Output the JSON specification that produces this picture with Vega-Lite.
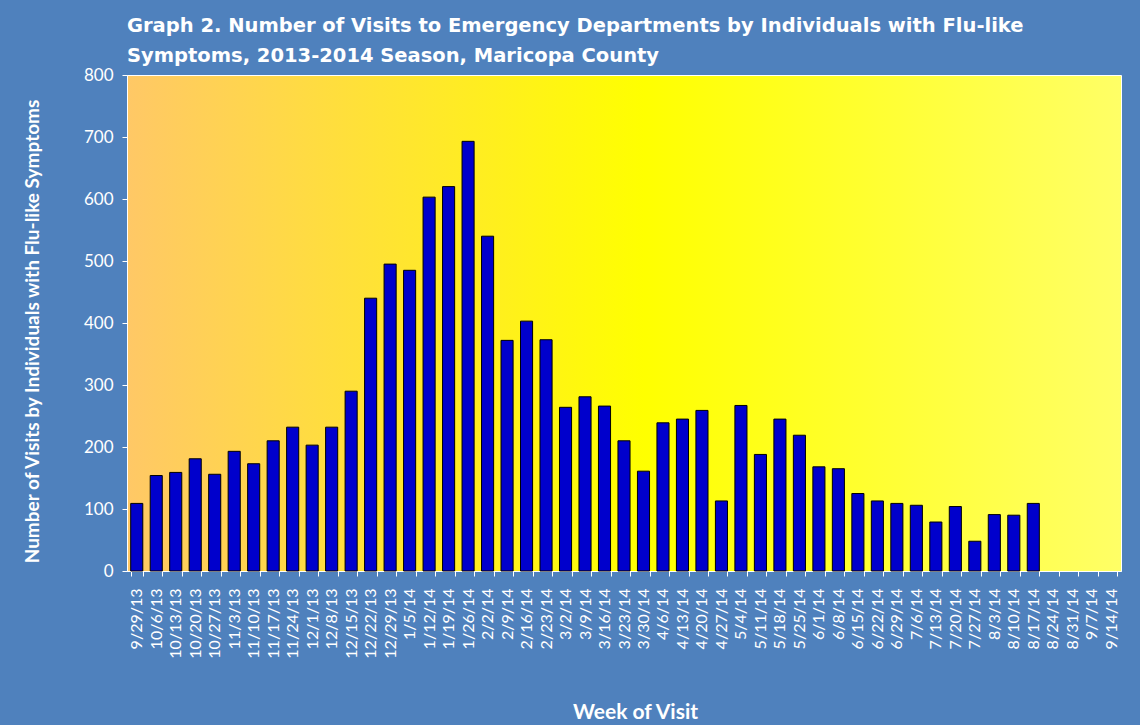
{
  "$schema": "https://vega.github.io/schema/vega-lite/v6.json",
  "width": 994,
  "height": 496,
  "autosize": {"type": "none"},
  "padding": {"left": 127, "top": 75, "right": 19, "bottom": 154},
  "background": "#4F81BD",
  "title": {
    "text": ["Graph 2. Number of Visits to Emergency Departments by Individuals with Flu-like", "Symptoms, 2013-2014 Season, Maricopa County"],
    "anchor": "start",
    "frame": "group",
    "font": "DejaVu Sans",
    "fontSize": 19.5,
    "fontWeight": "bold",
    "color": "white",
    "lineHeight": 30,
    "offset": 0
  },
  "config": {
    "view": {
      "stroke": "white",
      "strokeWidth": 1,
      "fill": {
        "gradient": "linear",
        "x1": 0, "y1": 0, "x2": 1, "y2": 0,
        "stops": [
          {"offset": 0, "color": "#FFC866"},
          {"offset": 0.52, "color": "#FFFF00"},
          {"offset": 1, "color": "#FFFF66"}
        ]
      }
    },
    "axis": {
      "labelFont": "Lato",
      "titleFont": "Lato",
      "labelColor": "white",
      "titleColor": "white",
      "domainColor": "white",
      "tickColor": "white",
      "grid": false
    }
  },
  "data": {
    "values": [
      {"week": "9/29/13", "visits": 109},
      {"week": "10/6/13", "visits": 154},
      {"week": "10/13/13", "visits": 159},
      {"week": "10/20/13", "visits": 181},
      {"week": "10/27/13", "visits": 156},
      {"week": "11/3/13", "visits": 193},
      {"week": "11/10/13", "visits": 173},
      {"week": "11/17/13", "visits": 210},
      {"week": "11/24/13", "visits": 232},
      {"week": "12/1/13", "visits": 203},
      {"week": "12/8/13", "visits": 232},
      {"week": "12/15/13", "visits": 290},
      {"week": "12/22/13", "visits": 440},
      {"week": "12/29/13", "visits": 495},
      {"week": "1/5/14", "visits": 485},
      {"week": "1/12/14", "visits": 603},
      {"week": "1/19/14", "visits": 620},
      {"week": "1/26/14", "visits": 693},
      {"week": "2/2/14", "visits": 540},
      {"week": "2/9/14", "visits": 372},
      {"week": "2/16/14", "visits": 403},
      {"week": "2/23/14", "visits": 373},
      {"week": "3/2/14", "visits": 264},
      {"week": "3/9/14", "visits": 281},
      {"week": "3/16/14", "visits": 266},
      {"week": "3/23/14", "visits": 210},
      {"week": "3/30/14", "visits": 161},
      {"week": "4/6/14", "visits": 239},
      {"week": "4/13/14", "visits": 245},
      {"week": "4/20/14", "visits": 259},
      {"week": "4/27/14", "visits": 113},
      {"week": "5/4/14", "visits": 267},
      {"week": "5/11/14", "visits": 188},
      {"week": "5/18/14", "visits": 245},
      {"week": "5/25/14", "visits": 219},
      {"week": "6/1/14", "visits": 168},
      {"week": "6/8/14", "visits": 165},
      {"week": "6/15/14", "visits": 125},
      {"week": "6/22/14", "visits": 113},
      {"week": "6/29/14", "visits": 109},
      {"week": "7/6/14", "visits": 106},
      {"week": "7/13/14", "visits": 79},
      {"week": "7/20/14", "visits": 104},
      {"week": "7/27/14", "visits": 48},
      {"week": "8/3/14", "visits": 91},
      {"week": "8/10/14", "visits": 90},
      {"week": "8/17/14", "visits": 109},
      {"week": "8/24/14", "visits": null},
      {"week": "8/31/14", "visits": null},
      {"week": "9/7/14", "visits": null},
      {"week": "9/14/14", "visits": null}
    ]
  },
  "mark": {"type": "bar", "color": "#0000CC", "stroke": "black", "strokeWidth": 1},
  "encoding": {
    "x": {
      "field": "week",
      "type": "nominal",
      "sort": null,
      "scale": {
        "domain": ["9/29/13", "10/6/13", "10/13/13", "10/20/13", "10/27/13", "11/3/13", "11/10/13", "11/17/13", "11/24/13", "12/1/13", "12/8/13", "12/15/13", "12/22/13", "12/29/13", "1/5/14", "1/12/14", "1/19/14", "1/26/14", "2/2/14", "2/9/14", "2/16/14", "2/23/14", "3/2/14", "3/9/14", "3/16/14", "3/23/14", "3/30/14", "4/6/14", "4/13/14", "4/20/14", "4/27/14", "5/4/14", "5/11/14", "5/18/14", "5/25/14", "6/1/14", "6/8/14", "6/15/14", "6/22/14", "6/29/14", "7/6/14", "7/13/14", "7/20/14", "7/27/14", "8/3/14", "8/10/14", "8/17/14", "8/24/14", "8/31/14", "9/7/14", "9/14/14"],
        "paddingInner": 0.38,
        "paddingOuter": 0.19
      },
      "axis": {
        "title": "Week of Visit",
        "titleFontSize": 21,
        "titleFontWeight": "bold",
        "titleY": 141,
        "titleX": 508,
        "titleBaseline": "middle",
        "labelAngle": -90,
        "labelFontSize": 16,
        "labelPadding": 12,
        "tickBand": "extent",
        "tickSize": 5
      }
    },
    "y": {
      "field": "visits",
      "type": "quantitative",
      "scale": {"domain": [0, 800]},
      "axis": {
        "title": "Number of Visits by Individuals with Flu-like Symptoms",
        "titleFontSize": 19,
        "titleFontWeight": "bold",
        "titleX": -95,
        "titleY": 256,
        "titleBaseline": "middle",
        "values": [0, 100, 200, 300, 400, 500, 600, 700, 800],
        "labelFontSize": 17,
        "labelPadding": 9,
        "tickSize": 5
      }
    }
  }
}
